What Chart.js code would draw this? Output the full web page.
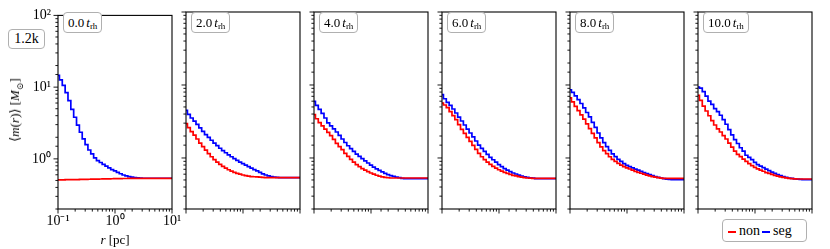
<!DOCTYPE html>
<html>
<head>
<meta charset="utf-8">
<script src="https://cdn.jsdelivr.net/npm/chart.js@4.4.1/dist/chart.umd.min.js"></script>
<style>
  html, body { margin: 0; padding: 0; background: #fff; }
  #wrap { position: relative; width: 830px; height: 249px; overflow: hidden; font-family: "Liberation Serif", "DejaVu Serif", serif; color: #000; }
  #wrap canvas { position: absolute; top: 0; }
  .tag { position: absolute; background: #fff; border: 1px solid #b0b0b0; border-radius: 4px; box-sizing: border-box; white-space: nowrap; }
  .time { top: 12px; height: 21px; line-height: 19px; padding: 0 4px; font-size: 13px; }
  .time sub { font-size: 9px; vertical-align: -2px; line-height: 0; }
  .time i { margin-left: 2px; }
  #model { left: 8px; top: 29px; width: 37px; height: 20px; line-height: 18px; text-align: center; font-size: 14px; }
  #legend { left: 722px; top: 219px; width: 85px; height: 23px; line-height: 21px; font-size: 14px; padding-left: 5px; }
  #legend span.key { display: inline-block; width: 8px; height: 2px; vertical-align: middle; margin-right: 3px; }
  .axtitle { position: absolute; white-space: nowrap; font-size: 13px; }
  #ytitle { left: 15px; top: 110px; transform: translate(-50%, -50%) rotate(-90deg); }
  #xtitle { left: 115px; top: 240px; transform: translate(-50%, -50%); }
  #xtitle sub, #ytitle sub { font-size: 9px; line-height: 0; }
</style>
</head>
<body>
<div id="wrap">
  <div class="axtitle" id="ytitle">⟨<i>m</i>(<i>r</i>)⟩ [<i>M</i><sub>⊙</sub>]</div>
  <div class="axtitle" id="xtitle"><i>r</i> [pc]</div>
  <div class="tag" id="model">1.2k</div>
  <div class="tag" id="legend"><span class="key" style="background:#ff0000"></span>non<span class="key" style="background:#0000ff;margin-left:2px"></span>seg</div>
</div>
<script>
// radius bins [pc]
const R = [0.1, 0.1122, 0.1259, 0.1413, 0.1585, 0.1778, 0.1995, 0.2239, 0.2512, 0.2818,
           0.3162, 0.3548, 0.3981, 0.4467, 0.5012, 0.5623, 0.6310, 0.7079, 0.7943, 0.8913,
           1.0, 1.122, 1.259, 1.413, 1.585, 1.778, 1.995, 2.239, 2.512, 2.818,
           3.162, 3.548, 3.981, 4.467, 5.012, 5.623, 6.310, 7.079, 7.943, 8.913, 10.0];

// snapshot times (in t_rh)
const TIMES = ['0.0', '2.0', '4.0', '6.0', '8.0', '10.0'];

// mean stellar mass, non-segregated runs
const non0  = [0.508, 0.51, 0.509, 0.512, 0.512, 0.513, 0.515, 0.515, 0.516, 0.518,
               0.518, 0.52, 0.521, 0.521, 0.523, 0.524, 0.525, 0.526, 0.527, 0.528,
               0.529, 0.53, 0.531, 0.532, 0.532, 0.533, 0.533, 0.534, 0.534, 0.535,
               0.535, 0.535, 0.535, 0.535, 0.535, 0.535, 0.535, 0.535, 0.535, 0.535, 0.535];
const non2  = [2.95, 2.6, 2.3, 2.06, 1.82, 1.6, 1.43, 1.28, 1.15, 1.04,
               0.95, 0.88, 0.818, 0.766, 0.725, 0.69, 0.661, 0.636, 0.616, 0.6,
               0.585, 0.574, 0.565, 0.557, 0.553, 0.55, 0.546, 0.542, 0.538, 0.537,
               0.537, 0.537, 0.537, 0.537, 0.537, 0.537, 0.537, 0.537, 0.537, 0.537, 0.537];
const non4  = [3.92, 3.45, 3.06, 2.76, 2.48, 2.24, 2.02, 1.8, 1.59, 1.43,
               1.3, 1.16, 1.05, 0.955, 0.877, 0.81, 0.76, 0.717, 0.681, 0.65,
               0.623, 0.6, 0.58, 0.565, 0.552, 0.542, 0.536, 0.532, 0.532, 0.532,
               0.532, 0.532, 0.532, 0.532, 0.532, 0.532, 0.532, 0.532, 0.532, 0.532, 0.532];
const non6  = [5.67, 5.32, 4.89, 4.31, 3.8, 3.35, 2.86, 2.47, 2.17, 1.91,
               1.69, 1.49, 1.31, 1.16, 1.04, 0.95, 0.879, 0.818, 0.769, 0.727,
               0.69, 0.661, 0.636, 0.617, 0.597, 0.578, 0.567, 0.556, 0.546, 0.538,
               0.532, 0.53, 0.527, 0.527, 0.527, 0.527, 0.527, 0.527, 0.527, 0.527, 0.527];
const non8  = [6.64, 5.87, 5.1, 4.45, 3.9, 3.4, 2.93, 2.52, 2.17, 1.88,
               1.62, 1.42, 1.26, 1.15, 1.04, 0.96, 0.9, 0.845, 0.8, 0.763,
               0.73, 0.706, 0.68, 0.656, 0.636, 0.618, 0.6, 0.582, 0.568, 0.556,
               0.545, 0.537, 0.531, 0.526, 0.526, 0.526, 0.526, 0.526, 0.526, 0.526, 0.526];
const non10 = [7.24, 6.17, 5.13, 4.4, 3.79, 3.24, 2.83, 2.51, 2.27, 2.02,
               1.82, 1.6, 1.41, 1.24, 1.12, 1.045, 0.966, 0.896, 0.839, 0.787,
               0.745, 0.71, 0.68, 0.658, 0.631, 0.614, 0.598, 0.578, 0.564, 0.552,
               0.541, 0.533, 0.527, 0.522, 0.518, 0.515, 0.515, 0.515, 0.515, 0.515, 0.515];

// mean stellar mass, primordially segregated runs
const seg0  = [14.6, 12.6, 10.6, 8.4, 6.5, 4.9, 3.8, 2.95, 2.35, 1.9,
               1.58, 1.33, 1.17, 1.03, 0.944, 0.89, 0.836, 0.794, 0.75, 0.71,
               0.68, 0.646, 0.62, 0.596, 0.578, 0.565, 0.556, 0.55, 0.545, 0.541,
               0.537, 0.537, 0.537, 0.537, 0.537, 0.537, 0.537, 0.537, 0.537, 0.537, 0.537];
const seg2  = [4.5, 3.96, 3.53, 3.2, 2.88, 2.58, 2.31, 2.09, 1.91, 1.75,
               1.6, 1.48, 1.36, 1.26, 1.18, 1.1, 1.04, 0.98, 0.928, 0.88,
               0.836, 0.8, 0.763, 0.726, 0.693, 0.664, 0.634, 0.607, 0.585, 0.569,
               0.555, 0.548, 0.541, 0.538, 0.537, 0.537, 0.537, 0.537, 0.537, 0.537, 0.537];
const seg4  = [5.97, 5.26, 4.64, 4.08, 3.53, 3.02, 2.75, 2.5, 2.27, 2.04,
               1.82, 1.63, 1.47, 1.34, 1.23, 1.13, 1.05, 0.977, 0.91, 0.853,
               0.8, 0.75, 0.708, 0.675, 0.644, 0.615, 0.593, 0.573, 0.56, 0.547,
               0.537, 0.527, 0.52, 0.52, 0.52, 0.52, 0.52, 0.52, 0.52, 0.52, 0.52];
const seg6  = [7.36, 6.48, 5.77, 5.26, 4.69, 4.13, 3.64, 3.21, 2.83, 2.49,
               2.2, 1.94, 1.71, 1.5, 1.35, 1.23, 1.12, 1.02, 0.945, 0.875,
               0.81, 0.76, 0.717, 0.681, 0.65, 0.623, 0.603, 0.584, 0.566, 0.552,
               0.542, 0.536, 0.53, 0.523, 0.52, 0.52, 0.52, 0.52, 0.52, 0.52, 0.52];
const seg8  = [8.6, 7.9, 7.1, 6.3, 5.58, 4.85, 4.2, 3.65, 3.08, 2.62,
               2.2, 1.88, 1.62, 1.43, 1.27, 1.14, 1.045, 0.96, 0.9, 0.836,
               0.79, 0.76, 0.73, 0.703, 0.68, 0.655, 0.632, 0.61, 0.59, 0.572,
               0.555, 0.541, 0.53, 0.521, 0.514, 0.508, 0.505, 0.505, 0.505, 0.505, 0.505];
const seg10 = [9.38, 9.04, 8.09, 7.03, 6.03, 5.42, 4.73, 4.31, 3.85, 3.35,
               2.9, 2.44, 2.07, 1.79, 1.58, 1.38, 1.24, 1.09, 1.02, 0.95,
               0.87, 0.81, 0.775, 0.74, 0.705, 0.672, 0.642, 0.615, 0.592, 0.573,
               0.556, 0.543, 0.532, 0.524, 0.517, 0.512, 0.508, 0.505, 0.505, 0.505, 0.505];

const NON = [non0, non2, non4, non6, non8, non10];
const SEG = [seg0, seg2, seg4, seg6, seg8, seg10];

// panel geometry
const PANEL_LEFT = [58, 186, 314, 442, 570, 698];
const PANEL_W = 114;
const GAP = 14;

const SUP = { '-': '⁻', '0': '⁰', '1': '¹', '2': '²', '3': '³' };
const isDecade = v => Math.abs(Math.log10(v) - Math.round(Math.log10(v))) < 1e-6;
const pow10 = v => '10' + String(Math.round(Math.log10(v))).split('').map(c => SUP[c]).join('');

// frame on all four sides + outward major/minor ticks
const frameTicks = {
    id: 'frameTicks',
    afterDraw(chart) {
        const { ctx, chartArea: a, scales: { x, y } } = chart;
        ctx.save();
        ctx.strokeStyle = '#000';
        ctx.lineWidth = 0.9;
        ctx.beginPath();
        x.ticks.forEach(t => {
            const px = x.getPixelForValue(t.value);
            const len = isDecade(t.value) ? 4.5 : 2.6;
            ctx.moveTo(px, a.bottom);
            ctx.lineTo(px, a.bottom + len);
        });
        y.ticks.forEach(t => {
            const py = y.getPixelForValue(t.value);
            const len = isDecade(t.value) ? 4.5 : 2.6;
            ctx.moveTo(a.left, py);
            ctx.lineTo(a.left - len, py);
        });
        ctx.stroke();
        ctx.lineWidth = 1.1;
        ctx.strokeRect(a.left, a.top, a.right - a.left, a.bottom - a.top);
        ctx.restore();
    }
};

const wrap = document.getElementById('wrap');

TIMES.forEach((t, i) => {
    const first = i === 0;
    const yw = first ? 58 : 10;
    const canvas = document.createElement('canvas');
    canvas.width = yw + PANEL_W + GAP;
    canvas.height = 249;
    canvas.style.left = (PANEL_LEFT[i] - yw) + 'px';
    wrap.insertBefore(canvas, wrap.firstChild);

    const tag = document.createElement('div');
    tag.className = 'tag time';
    tag.style.left = (PANEL_LEFT[i] + 5) + 'px';
    tag.innerHTML = t + '<i>t</i><sub>rh</sub>';
    wrap.appendChild(tag);

    new Chart(canvas.getContext('2d'), {
        type: 'line',
        data: {
            datasets: [
                {
                    label: 'non',
                    data: R.map((r, k) => ({ x: r, y: NON[i][k] })),
                    borderColor: '#ff0000',
                    borderWidth: 1.7,
                    pointRadius: 0,
                    stepped: 'middle',
                    fill: false
                },
                {
                    label: 'seg',
                    data: R.map((r, k) => ({ x: r, y: SEG[i][k] })),
                    borderColor: '#0000ff',
                    borderWidth: 1.7,
                    pointRadius: 0,
                    stepped: 'middle',
                    fill: false
                }
            ]
        },
        options: {
            responsive: false,
            animation: false,
            events: [],
            layout: { padding: { top: 12, right: GAP, left: 0, bottom: 0 } },
            plugins: { legend: { display: false }, tooltip: { enabled: false } },
            scales: {
                x: {
                    type: 'logarithmic',
                    min: 0.1,
                    max: 10,
                    grid: { display: false, drawTicks: false },
                    border: { display: false },
                    ticks: {
                        display: first,
                        autoSkip: false,
                        maxRotation: 0,
                        padding: 4,
                        color: '#000',
                        font: { family: 'Liberation Serif', size: 14 },
                        callback: v => isDecade(v) ? pow10(v) : ''
                    },
                    afterFit: s => { s.height = 40; }
                },
                y: {
                    type: 'logarithmic',
                    min: 0.2,
                    max: 100,
                    grid: { display: false, drawTicks: false },
                    border: { display: false },
                    ticks: {
                        display: first,
                        autoSkip: false,
                        padding: 7,
                        color: '#000',
                        font: { family: 'Liberation Serif', size: 14 },
                        callback: v => isDecade(v) ? pow10(v) : ''
                    },
                    afterFit: s => { s.width = yw; }
                }
            }
        },
        plugins: [frameTicks]
    });
});
</script>
</body>
</html>
